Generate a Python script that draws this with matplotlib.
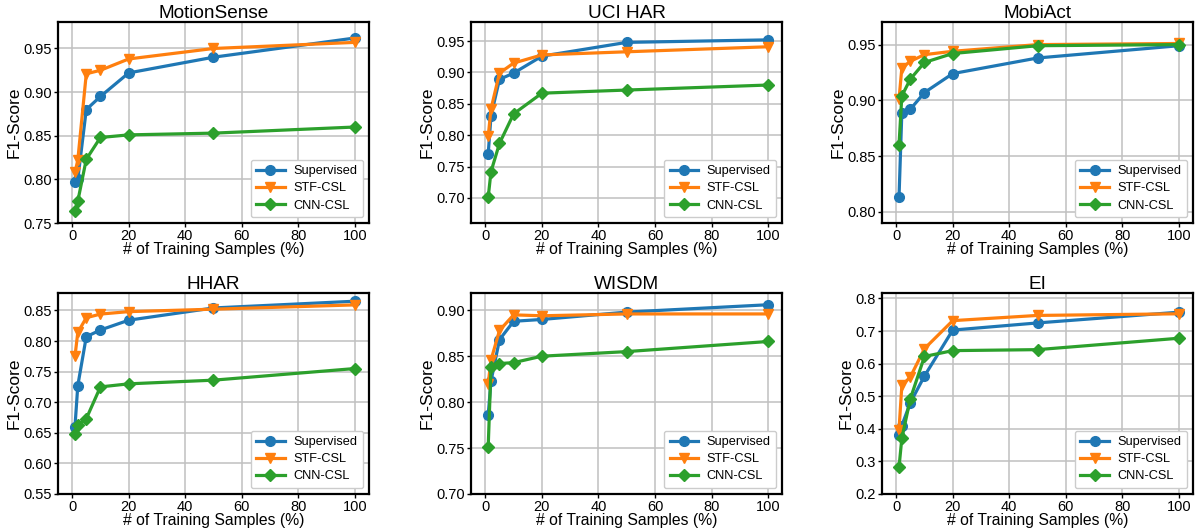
import matplotlib
matplotlib.use("Agg")
import matplotlib.pyplot as plt

plt.rcParams['font.family'] = ['Liberation Sans', 'DejaVu Sans']

# percentage of labelled training samples
samples = [1, 2, 5, 10, 20, 50, 100]
methods = ['Supervised', 'STF-CSL', 'CNN-CSL']

motionsense_sup = [0.797, 0.800, 0.880, 0.895, 0.922, 0.940, 0.962]
motionsense_stf = [0.808, 0.822, 0.921, 0.925, 0.938, 0.950, 0.957]
motionsense_cnn = [0.764, 0.775, 0.823, 0.848, 0.851, 0.853, 0.860]

ucihar_sup = [0.770, 0.831, 0.889, 0.899, 0.926, 0.948, 0.952]
ucihar_stf = [0.798, 0.842, 0.899, 0.915, 0.928, 0.933, 0.941]
ucihar_cnn = [0.701, 0.742, 0.787, 0.834, 0.867, 0.872, 0.880]

mobiact_sup = [0.813, 0.889, 0.892, 0.907, 0.924, 0.938, 0.949]
mobiact_stf = [0.901, 0.929, 0.935, 0.941, 0.944, 0.950, 0.951]
mobiact_cnn = [0.860, 0.904, 0.919, 0.934, 0.942, 0.949, 0.950]

hhar_sup = [0.660, 0.727, 0.807, 0.818, 0.834, 0.854, 0.865]
hhar_stf = [0.775, 0.814, 0.838, 0.844, 0.848, 0.852, 0.859]
hhar_cnn = [0.648, 0.662, 0.673, 0.725, 0.730, 0.736, 0.755]

wisdm_sup = [0.786, 0.823, 0.868, 0.888, 0.890, 0.898, 0.906]
wisdm_stf = [0.820, 0.846, 0.878, 0.895, 0.894, 0.896, 0.896]
wisdm_cnn = [0.751, 0.838, 0.842, 0.843, 0.850, 0.855, 0.866]

ei_sup = [0.380, 0.410, 0.480, 0.562, 0.703, 0.725, 0.758]
ei_stf = [0.397, 0.533, 0.559, 0.646, 0.732, 0.748, 0.753]
ei_cnn = [0.282, 0.371, 0.492, 0.622, 0.640, 0.643, 0.678]

panels = [
    ('MotionSense', [motionsense_sup, motionsense_stf, motionsense_cnn], (0.75, 0.98), [0.75, 0.80, 0.85, 0.90, 0.95], '%.2f'),
    ('UCI HAR', [ucihar_sup, ucihar_stf, ucihar_cnn], (0.66, 0.98), [0.70, 0.75, 0.80, 0.85, 0.90, 0.95], '%.2f'),
    ('MobiAct', [mobiact_sup, mobiact_stf, mobiact_cnn], (0.79, 0.97), [0.80, 0.85, 0.90, 0.95], '%.2f'),
    ('HHAR', [hhar_sup, hhar_stf, hhar_cnn], (0.55, 0.878), [0.55, 0.60, 0.65, 0.70, 0.75, 0.80, 0.85], '%.2f'),
    ('WISDM', [wisdm_sup, wisdm_stf, wisdm_cnn], (0.70, 0.9185), [0.70, 0.75, 0.80, 0.85, 0.90], '%.2f'),
    ('EI', [ei_sup, ei_stf, ei_cnn], (0.2, 0.816), [0.2, 0.3, 0.4, 0.5, 0.6, 0.7, 0.8], '%.1f'),
]

colors = ['#1f77b4', '#ff7f0e', '#2ca02c']
markers = ['o', 'v', 'D']
msizes = [7, 7.5, 6.5]

fig = plt.figure(figsize=(11.96, 5.31), dpi=100)

lefts = [0.0485, 0.394, 0.7375]
bottoms = [0.58, 0.0697]
w, h = 0.26, 0.378

for i, (title, series, ylim, yticks, fmt) in enumerate(panels):
    ax = fig.add_axes([lefts[i % 3], bottoms[i // 3], w, h])
    for vals, name, c, m, ms in zip(series, methods, colors, markers, msizes):
        ax.plot(samples, vals, color=c, marker=m, markersize=ms, linewidth=2.3, label=name)
    ax.set_ylim(*ylim)
    ax.set_xlim(-5, 105)
    ax.set_yticks(yticks)
    ax.set_yticklabels([fmt % t for t in yticks])
    ax.set_xticks([0, 20, 40, 60, 80, 100])
    ax.grid(True, color='#c0c0c0', linewidth=1.1)
    ax.set_axisbelow(True)
    for s in ax.spines.values():
        s.set_linewidth(1.6)
        s.set_color('black')
    ax.tick_params(labelsize=10.5, width=1.0, length=3, pad=1.5)
    ax.set_title(title, fontsize=13.7, pad=3)
    ax.set_xlabel('# of Training Samples (%)', fontsize=11.3, labelpad=-1)
    ax.set_ylabel('F1-Score', fontsize=12.5, labelpad=1)
    ax.legend(loc='lower right', fontsize=9.2, handlelength=2.2, borderpad=0.45,
              labelspacing=0.4, handletextpad=0.7, borderaxespad=0.45,
              framealpha=1.0, edgecolor='#cccccc', fancybox=True)

fig.savefig('out.png', dpi=100)
